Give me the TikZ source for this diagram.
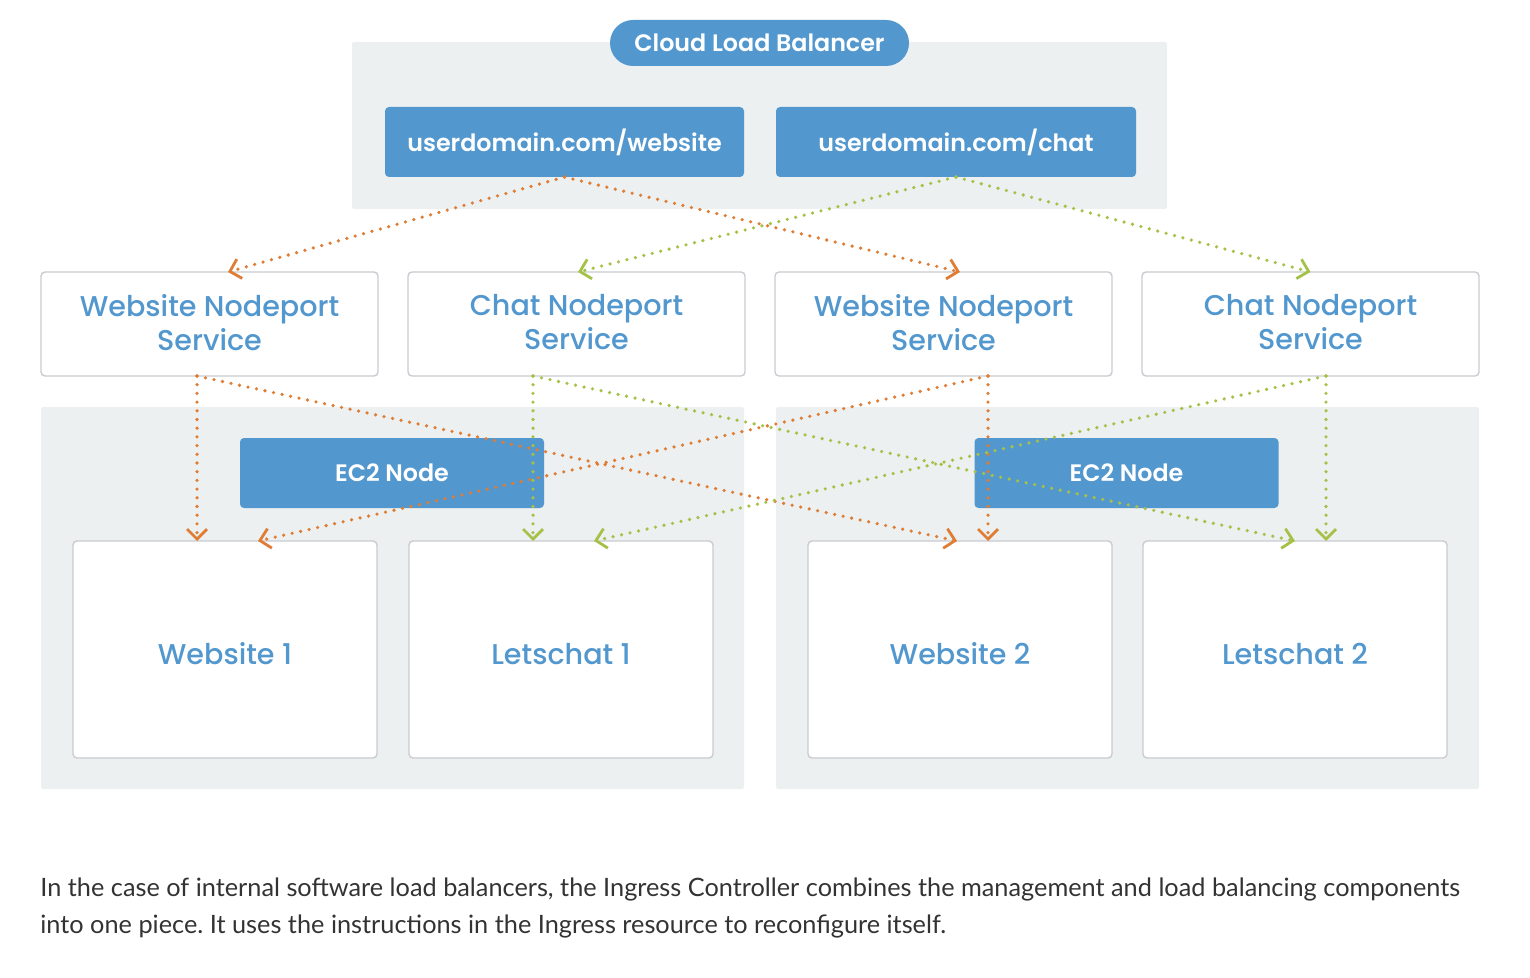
\documentclass[tikz,border=0pt]{standalone}
\usepackage{fontspec}
\setmainfont{Poppins}
\newfontfamily\medfont{Poppins Medium}
\newfontfamily\semifont{Poppins SemiBold}
\newfontfamily\notefont{Lato}
\usepackage{tikz}
\usetikzlibrary{arrows.meta,calc,positioning}
\definecolor{lbblue}{RGB}{82,151,206}
\definecolor{lborange}{RGB}{224,125,52}
\definecolor{lbgreen}{RGB}{166,193,72}
\definecolor{lbpanel}{RGB}{236,240,241}
\definecolor{lbframe}{RGB}{200,204,208}
\definecolor{lbtext}{RGB}{51,51,51}
\newdimen\hdim
\newdimen\wdim
\hdim=35pt
\wdim=152pt
\tikzstyle{panel}=[
  fill=lbpanel,
  draw=none,
  inner sep=0pt,
  outer sep=0pt,
  rectangle,
  rounded corners=1pt,
]
\tikzstyle{tag}=[
  fill=lbblue,
  draw=none,
  text=white,
  font={\fontsize{11.9}{13}\semifont},
  inner sep=0pt,
  minimum height=\hdim,
  outer sep=0pt,
  rectangle,
  rounded corners=2pt,
  text centered,
]
\tikzstyle{service}=[
  fill=white,
  draw=lbframe,
  line width=0.7pt,
  text=lbblue,
  font={\fontsize{14.3}{17}\medfont},
  align=center,
  inner sep=0pt,
  minimum height=52pt,
  minimum width=168.5pt,
  outer sep=0pt,
  rectangle,
  rounded corners=2pt,
]
\tikzstyle{app}=[
  service,
  minimum height=108.5pt,
  minimum width=\wdim,
  text height=15pt,
  text depth=0pt,
]
\tikzstyle{link}=[
  line width=1.8pt,
  line cap=round,
  dash pattern=on 0pt off 4.35pt,
  -{Straight Barb[length=5pt,width=10pt,line width=1.4pt]},
]
\tikzset{
  node distance=15pt,
  >=stealth,
}
\begin{document}
\begin{tikzpicture}[x=0.5pt,y=-0.5pt]
      \useasboundingbox (0,0) rectangle (1530,978);
      %% backgrounds
      \node (toppanel) [panel, minimum width=407.5pt, minimum height=83.5pt] at (759.5,125.5) {};
      \node (leftpanel) [panel, minimum width=351.5pt, minimum height=191pt] at (392.5,598) {};
      \node (rightpanel) [panel, minimum width=351.5pt, minimum height=191pt, right=16pt of leftpanel] {};
      %%
      \node (clb) [tag, minimum width=149.5pt, minimum height=23pt, rounded corners=11.5pt] at (759.5,43) {Cloud Load Balancer};
      \node (urlweb) [tag, minimum width=179.5pt] at (564.5,142) {userdomain.com/website};
      \node (urlchat) [tag, minimum width=180pt, right=16pt of urlweb] {userdomain.com/chat};
      %%
      \node (ws1) [service] at (209.5,324) {Website Nodeport\\Service\rule[-2pt]{0pt}{2pt}};
      \node (cs1) [service, right=of ws1] {Chat Nodeport\\Service\rule[-2pt]{0pt}{2pt}};
      \node (ws2) [service, right=of cs1] {Website Nodeport\\Service\rule[-2pt]{0pt}{2pt}};
      \node (cs2) [service, right=of ws2] {Chat Nodeport\\Service\rule[-2pt]{0pt}{2pt}};
      %%
      \node (ec2a) [tag, minimum width=\wdim] at (392,473) {EC2 Node};
      \node (ec2b) [tag, minimum width=\wdim] at (1126.5,473) {EC2 Node};
      %%
      \node (web1) [app] at (225,649.5) {Website 1};
      \node (let1) [app, right=16pt of web1] {Letschat 1};
      \node (web2) [app] at (960,649.5) {Website 2};
      \node (let2) [app, right=15.5pt of web2] {Letschat 2};
      %%
      \draw [link, lborange] (urlweb.south) -- ([xshift=9.25pt]ws1.north);
      \draw [link, lborange] (urlweb.south) -- ([xshift=8.25pt]ws2.north);
      \draw [link, lbgreen] (urlchat.south) -- ([xshift=0.75pt]cs1.north);
      \draw [link, lbgreen] (urlchat.south) -- (cs2.north);
      %%
      \draw [link, lborange] ([xshift=-6.25pt]ws1.south) -- ([xshift=-14pt]web1.north);
      \draw [link, lborange] ([xshift=-6.25pt]ws1.south) -- ([xshift=-1.5pt]web2.north);
      \draw [link, lbgreen] ([xshift=-21.75pt]cs1.south) -- ([xshift=-14pt]let1.north);
      \draw [link, lbgreen] ([xshift=-21.75pt]cs1.south) -- (let2.north);
      \draw [link, lborange] ([xshift=22.25pt]ws2.south) -- ([xshift=14pt]web2.north);
      \draw [link, lborange] ([xshift=22.25pt]ws2.south) -- ([xshift=16.5pt]web1.north);
      \draw [link, lbgreen] ([xshift=7.75pt]cs2.south) -- ([xshift=15.5pt]let2.north);
      \draw [link, lbgreen] ([xshift=7.75pt]cs2.south) -- ([xshift=16.5pt]let1.north);
      %%
      \node (note) [anchor=north west, align=left, inner sep=0pt, text=lbtext,
        font={\fontsize{12.65}{18.5}\notefont\frenchspacing}] at (40,877)
        {In the case of internal software load balancers, the Ingress Controller combines the management and load balancing components\\
         into one piece. It uses the instructions in the Ingress resource to reconfigure itself.};
\end{tikzpicture}
\end{document}
